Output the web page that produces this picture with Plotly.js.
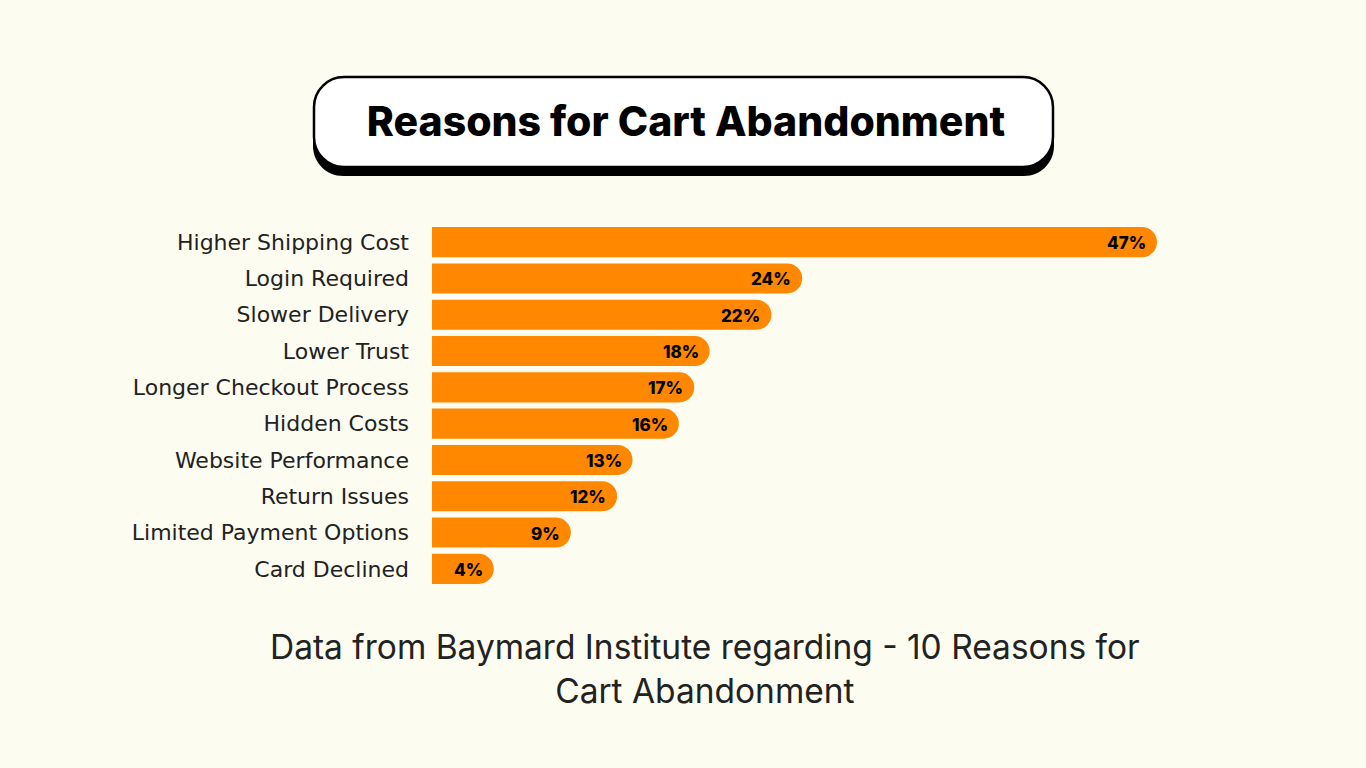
<!DOCTYPE html>
<html>
<head>
<meta charset="utf-8">
<script src="https://cdn.plot.ly/plotly-3.0.1.min.js"></script>
<style>
  html, body { margin: 0; padding: 0; background: #fcfcf0; }
  #chart { width: 1366px; height: 768px; }
</style>
</head>
<body>
<div id="chart"></div>
<script>
// ---- data ----
const reasons = [
  "Higher Shipping Cost",
  "Login Required",
  "Slower Delivery",
  "Lower Trust",
  "Longer Checkout Process",
  "Hidden Costs",
  "Website Performance",
  "Return Issues",
  "Limited Payment Options",
  "Card Declined"
];
const percents = [47, 24, 22, 18, 17, 16, 13, 12, 9, 4];
const titleText = "Reasons for Cart Abandonment";
const captionText = "Data from Baymard Institute regarding - 10 Reasons for<br>Cart Abandonment";

// ---- layout geometry (pixels) ----
const W = 1366, H = 768;
const M = { l: 432, r: 209, t: 224, b: 181 };
const PW = W - M.l - M.r, PH = H - M.t - M.b;
const px2x = p => (p - M.l) / PW;
const py2y = p => (H - M.b - p) / PH;

function roundRectPath(x0, y0, x1, y1, r) {
  // pixel coords -> paper coords path with rounded corners
  const k = 0.5523 * r;
  const P = (x, y) => px2x(x).toFixed(5) + "," + py2y(y).toFixed(5);
  return "M" + P(x0 + r, y0) +
    " L" + P(x1 - r, y0) +
    " C" + P(x1 - r + k, y0) + " " + P(x1, y0 + r - k) + " " + P(x1, y0 + r) +
    " L" + P(x1, y1 - r) +
    " C" + P(x1, y1 - r + k) + " " + P(x1 - r + k, y1) + " " + P(x1 - r, y1) +
    " L" + P(x0 + r, y1) +
    " C" + P(x0 + r - k, y1) + " " + P(x0, y1 - r + k) + " " + P(x0, y1 - r) +
    " L" + P(x0, y0 + r) +
    " C" + P(x0, y0 + r - k) + " " + P(x0 + r - k, y0) + " " + P(x0 + r, y0) + " Z";
}

const trace = {
  type: "bar",
  orientation: "h",
  y: reasons,
  x: percents,
  marker: { color: "#ff8800", cornerradius: 15, line: { width: 0 } },
  hoverinfo: "skip"
};

const labelAnnotations = reasons.map((r, i) => ({
  x: percents[i],
  y: r,
  xref: "x",
  yref: "y",
  text: percents[i] + "%",
  showarrow: false,
  xanchor: "right",
  xshift: -9,
  yshift: -1,
  font: { family: "Inter, 'Open Sans', sans-serif", size: 17, weight: 800, color: "#000" }
}));

const layout = {
  width: W,
  height: H,
  margin: M,
  paper_bgcolor: "#fcfcf0",
  plot_bgcolor: "#fcfcf0",
  showlegend: false,
  bargap: 0.17,
  title: {
    text: titleText,
    x: 686 / W,
    xanchor: "center",
    y: 1 - 122 / H,
    yanchor: "middle",
    font: { family: "Inter, 'Open Sans', sans-serif", size: 41, weight: 800, color: "#000" }
  },
  xaxis: {
    range: [0, 47],
    showgrid: false,
    zeroline: false,
    showticklabels: false,
    showline: false,
    fixedrange: true
  },
  yaxis: {
    type: "category",
    range: [9.5, -0.5],
    showgrid: false,
    zeroline: false,
    showline: false,
    ticks: "",
    ticklabelstandoff: 22,
    tickfont: { family: "'DejaVu Sans', sans-serif", size: 22, color: "#222" },
    fixedrange: true
  },
  shapes: [
    {
      type: "path", xref: "paper", yref: "paper",
      path: roundRectPath(313, 85, 1054, 176, 30),
      fillcolor: "#000", line: { color: "#000", width: 0 }, layer: "below"
    },
    {
      type: "path", xref: "paper", yref: "paper",
      path: roundRectPath(314, 77, 1053, 167, 30),
      fillcolor: "#ffffff", line: { color: "#000", width: 2.5 }, layer: "below"
    }
  ],
  annotations: labelAnnotations.concat([
    {
      xref: "paper", yref: "paper",
      x: px2x(705), y: py2y(669),
      xanchor: "center", yanchor: "middle",
      text: captionText,
      showarrow: false,
      align: "center",
      font: { family: "Inter, 'Open Sans', sans-serif", size: 33.5, weight: 400, color: "#222" }
    }
  ])
};

Plotly.newPlot("chart", [trace], layout, { displayModeBar: false, staticPlot: true });
</script>
</body>
</html>
